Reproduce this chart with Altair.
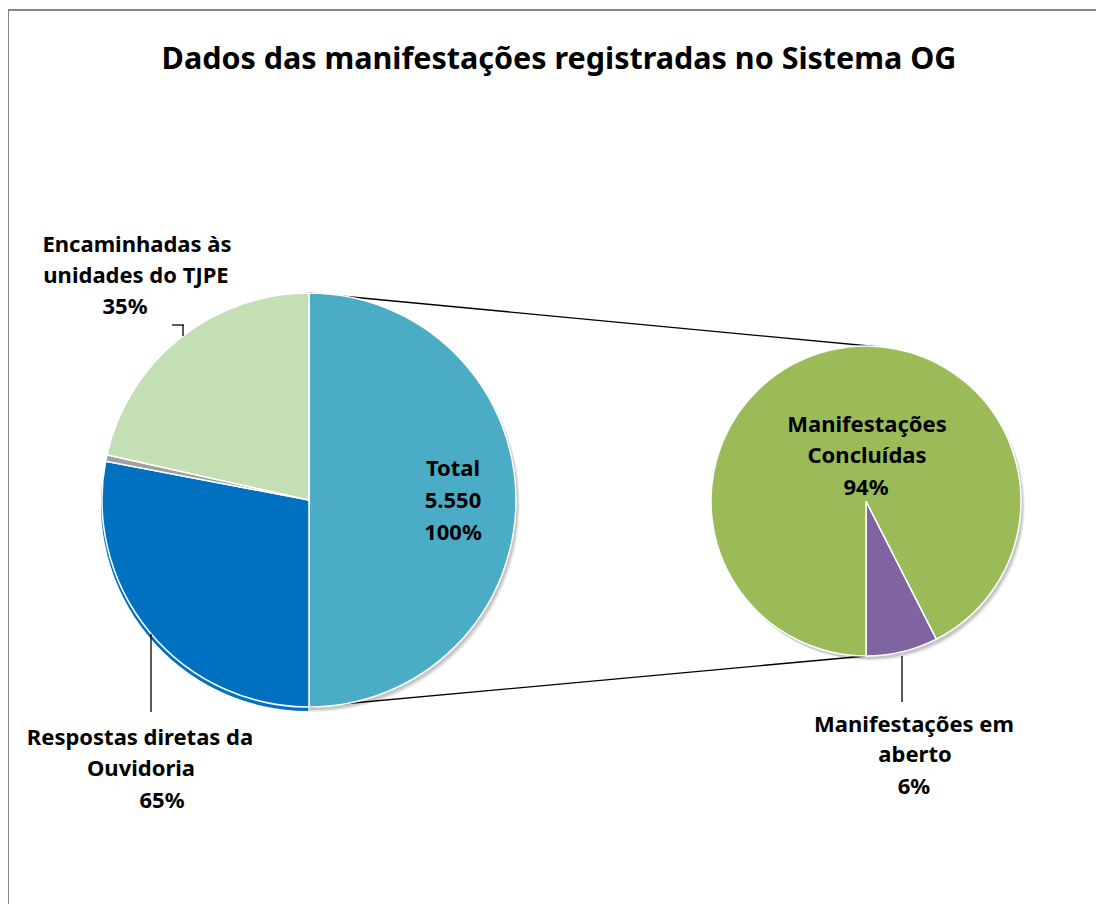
import math
import altair as alt
import pandas as pd

# ---------------- data ----------------
title_text = "Dados das manifestações registradas no Sistema OG"

left_categories = ["Total", "Respostas diretas da Ouvidoria", "Separador",
                   "Encaminhadas às unidades do TJPE"]
left_shares = [50.0, 28.0, 0.5, 21.5]

right_categories = ["Manifestações em aberto", "Manifestações Concluídas"]
right_shares = [7.5, 92.5]

label_lines = ["Encaminhadas às", "unidades do TJPE", "35%",
               "Respostas diretas da", "Ouvidoria", "65%",
               "Total", "5.550", "100%",
               "Manifestações", "Concluídas", "94%",
               "Manifestações em", "aberto", "6%"]

# ---------------- layout (page pixels) ----------------
W, H = 1088, 896
left_cx, left_cy, left_r = 309, 500, 207
right_cx, right_cy, right_r = 866, 501, 155
right_start_deg = 153

label_x = [137, 136, 125, 140, 141, 162, 453, 453, 453, 867, 867, 866, 914, 915, 914]
label_y = [252, 283, 314, 745, 776, 808, 476, 508, 540, 432, 463, 495, 732, 762, 794]

palette_domain = left_categories + right_categories
palette_range = ["#4BACC6", "#0070C0", "#A0A0A0", "#C4DFB4", "#8064A2", "#9BBB59"]

FONT = "Noto Sans"

xs = alt.Scale(domain=[8, 8 + W], nice=False, zero=False)
ys = alt.Scale(domain=[8, 8 + H], nice=False, zero=False, reverse=True)
color_scale = alt.Scale(domain=palette_domain, range=palette_range)

left_df = pd.DataFrame({"cat": left_categories, "share": left_shares,
                        "ord": list(range(len(left_categories))),
                        "cx": left_cx, "cy": left_cy})
right_df = pd.DataFrame({"cat": right_categories, "share": right_shares,
                         "ord": list(range(len(right_categories))),
                         "cx": right_cx, "cy": right_cy})
centers_df = pd.DataFrame({"cx": [left_cx, right_cx], "cy": [left_cy, right_cy],
                           "r": [left_r, right_r]})


def pos(cx="cx", cy="cy"):
    return dict(x=alt.X(f"{cx}:Q", scale=xs, axis=None),
                y=alt.Y(f"{cy}:Q", scale=ys, axis=None))


layers = []

# frame
frame_df = pd.DataFrame({"x": [8, 7], "y": [10, 10], "x2": [8, 8 + W], "y2": [8 + H, 10]})
layers.append(alt.Chart(frame_df).mark_rule(color="#878787", strokeWidth=2).encode(
    x=alt.X("x:Q", scale=xs, axis=None), x2="x2:Q",
    y=alt.Y("y:Q", scale=ys, axis=None), y2="y2:Q"))

# soft shadows
for off, op in [(2, 0.10), (3, 0.08), (4, 0.06)]:
    for cx, cy, r in zip(centers_df.cx, centers_df.cy, centers_df.r):
        d = pd.DataFrame({"cx": [cx], "cy": [cy]})
        layers.append(alt.Chart(d).mark_arc(radius=r, theta=0, theta2=2 * math.pi,
                                            color="#000000", opacity=op,
                                            xOffset=off, yOffset=off + 1).encode(**pos()))

# connector lines
conn_df = pd.DataFrame({
    "x": [left_cx, left_cx], "y": [left_cy - left_r, left_cy + left_r],
    "x2": [right_cx + 14, right_cx], "y2": [right_cy - right_r + 1, right_cy + right_r]})
layers.append(alt.Chart(conn_df).mark_rule(color="black", strokeWidth=1.3).encode(
    x=alt.X("x:Q", scale=xs, axis=None), x2="x2:Q",
    y=alt.Y("y:Q", scale=ys, axis=None), y2="y2:Q"))

left_theta = alt.Theta("share:Q", stack=True, scale=alt.Scale(range=[0, 2 * math.pi]))

# blue rim under the "Respostas" slice
layers.append(alt.Chart(left_df).mark_arc(radius=left_r, yOffset=4, xOffset=-1).encode(
    **pos(),
    theta=left_theta,
    order=alt.Order("ord:Q"),
    color=alt.Color("cat:N", scale=color_scale, legend=None),
    opacity=alt.condition(alt.datum.cat == "Respostas diretas da Ouvidoria",
                          alt.value(1), alt.value(0))))

# left pie
layers.append(alt.Chart(left_df).mark_arc(radius=left_r, stroke="white", strokeWidth=1.5).encode(
    **pos(),
    theta=left_theta,
    order=alt.Order("ord:Q"),
    color=alt.Color("cat:N", scale=color_scale, legend=None)))

# right pie
a0 = math.radians(right_start_deg)
layers.append(alt.Chart(right_df).mark_arc(radius=right_r, stroke="white", strokeWidth=1.5).encode(
    **pos(),
    theta=alt.Theta("share:Q", stack=True, scale=alt.Scale(range=[a0, a0 + 2 * math.pi])),
    order=alt.Order("ord:Q"),
    color=alt.Color("cat:N", scale=color_scale, legend=None)))

# leader lines
lead_df = pd.DataFrame({"x": [172, 183, 151, 902], "y": [325, 325, 634, 656],
                        "x2": [184, 183, 151, 902], "y2": [325, 336, 712, 702]})
layers.append(alt.Chart(lead_df).mark_rule(color="black", strokeWidth=1.3).encode(
    x=alt.X("x:Q", scale=xs, axis=None), x2="x2:Q",
    y=alt.Y("y:Q", scale=ys, axis=None), y2="y2:Q"))

# labels
lab_df = pd.DataFrame({"x": label_x, "y": label_y, "t": label_lines})
layers.append(alt.Chart(lab_df).mark_text(font=FONT, fontWeight="bold", fontSize=22,
                                          baseline="alphabetic", align="center",
                                          color="black").encode(
    x=alt.X("x:Q", scale=xs, axis=None), y=alt.Y("y:Q", scale=ys, axis=None), text="t:N"))

# title
title_df = pd.DataFrame({"x": [559], "y": [69], "t": [title_text]})
layers.append(alt.Chart(title_df).mark_text(font=FONT, fontWeight="bold", fontSize=30.5,
                                            baseline="alphabetic", align="center",
                                            color="black").encode(
    x=alt.X("x:Q", scale=xs, axis=None), y=alt.Y("y:Q", scale=ys, axis=None), text="t:N"))

chart = alt.layer(*layers).resolve_scale(theta="independent").properties(
    width=W, height=H, padding=0, autosize=alt.AutoSizeParams(type="none")
).configure_view(stroke=None)

chart.save("out.html", embed_options={"renderer": "svg", "actions": False})
